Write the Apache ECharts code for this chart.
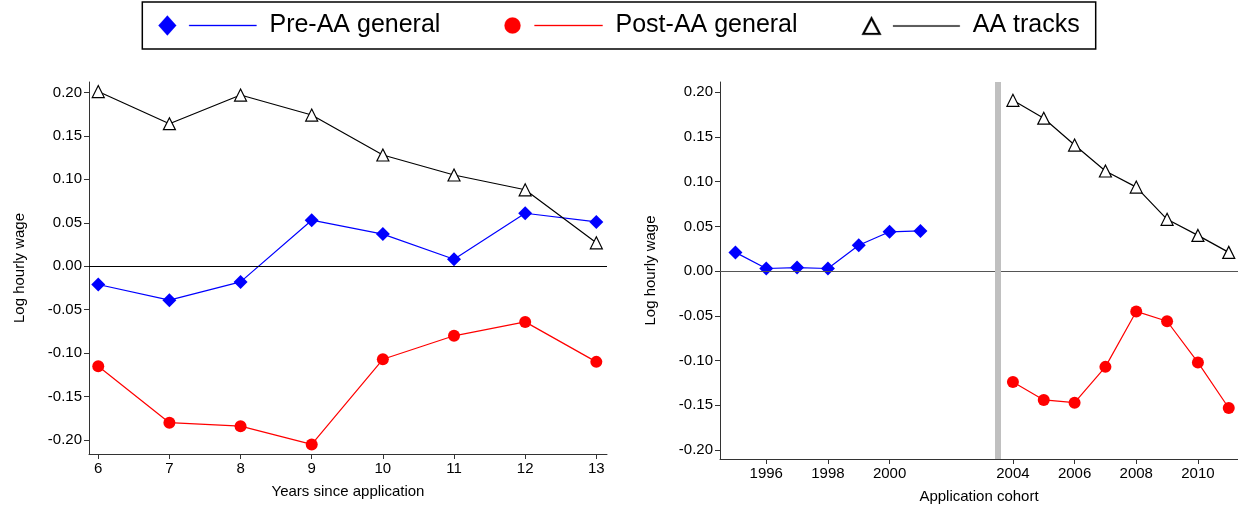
<!DOCTYPE html>
<html>
<head>
<meta charset="utf-8">
<script src="https://cdn.jsdelivr.net/npm/echarts@6/dist/echarts.min.js"></script>
<style>
  html, body { margin: 0; padding: 0; background: #fff; }
  #chart { width: 1238px; height: 509px; }
</style>
</head>
<body>
<div id="chart"></div>
<script>
// left panel: years since application
var yearsSince = [6, 7, 8, 9, 10, 11, 12, 13];
var preLeft = [-0.021, -0.039, -0.018, 0.053, 0.037, 0.008, 0.061, 0.051];
var postLeft = [-0.115, -0.180, -0.184, -0.205, -0.107, -0.080, -0.064, -0.110];
var aaLeft = [0.201, 0.164, 0.197, 0.174, 0.128, 0.105, 0.088, 0.027];

// right panel: application cohort
var preCohorts = [1995, 1996, 1997, 1998, 1999, 2000, 2001];
var preRight = [0.021, 0.003, 0.004, 0.003, 0.029, 0.044, 0.045];
var postCohorts = [2004, 2005, 2006, 2007, 2008, 2009, 2010, 2011];
var postRight = [-0.124, -0.144, -0.147, -0.107, -0.045, -0.056, -0.102, -0.153];
var aaRight = [0.191, 0.171, 0.141, 0.112, 0.094, 0.058, 0.040, 0.021];

var yTicks = [-0.20, -0.15, -0.10, -0.05, 0.00, 0.05, 0.10, 0.15, 0.20];
var leftXTicks = [6, 7, 8, 9, 10, 11, 12, 13];
var rightXTicks = [1996, 1998, 2000, 2004, 2006, 2008, 2010];
var reformCohort = 2003.5;

var font = 'Liberation Sans, Arial, sans-serif';
var zip = function (xs, ys) { return xs.map(function (x, i) { return [x, ys[i]]; }); };

// legend icons: marker, gap, then a line (like Stata legends)
var lineTail = 'M32,9.4 L100,9.4 L100,10.6 L32,10.6 Z';
var icons = {
  diamond: 'path://M1,10 L10,0 L19,10 L10,20 Z ' + lineTail,
  circle: 'path://M2,10 A8,8 0 1,1 18,10 A8,8 0 1,1 2,10 Z ' + lineTail,
  triangle: 'path://M0,19 L10,0 L20,19 Z M3.2,17.2 L16.8,17.2 L10,4.4 Z ' + lineTail
};

function xAxis(idx, min, max, ticks, name) {
  return {
    type: 'value', gridIndex: idx, min: min, max: max,
    name: name, nameLocation: 'middle', nameGap: 30,
    nameTextStyle: { color: '#000', fontSize: 15, fontFamily: font },
    splitLine: { show: false },
    axisLine: { onZero: false, lineStyle: { color: '#333', width: 1 } },
    axisTick: { customValues: ticks, length: 5, lineStyle: { color: '#333' } },
    axisLabel: { customValues: ticks, color: '#000', fontSize: 15, fontFamily: font, margin: 7,
      formatter: function (v) { return String(v); } }
  };
}
function yAxis(idx, min, max) {
  return {
    type: 'value', gridIndex: idx, min: min, max: max,
    name: 'Log hourly wage', nameLocation: 'middle', nameGap: 62,
    nameTextStyle: { color: '#000', fontSize: 15, fontFamily: font },
    splitLine: { show: false },
    axisLine: { show: true, onZero: false, lineStyle: { color: '#333', width: 1 } },
    axisTick: { customValues: yTicks, length: 5, lineStyle: { color: '#333' } },
    axisLabel: { customValues: yTicks, color: '#000', fontSize: 15, fontFamily: font, margin: 7,
      formatter: function (v) { return v.toFixed(2); } }
  };
}
function line(name, idx, data, color, symbol, size, extra) {
  var s = {
    name: name, type: 'line', xAxisIndex: idx, yAxisIndex: idx, data: data,
    symbol: symbol, symbolSize: size, showSymbol: true,
    lineStyle: { color: color, width: 1.2 },
    itemStyle: symbol === 'triangle' ? { color: '#fff', borderColor: '#000', borderWidth: 1.2 } : { color: color },
    z: 3
  };
  return Object.assign(s, extra || {});
}
var zeroLine = {
  markLine: { silent: true, symbol: 'none', label: { show: false },
    lineStyle: { color: '#000', width: 1, type: 'solid' }, data: [{ yAxis: 0 }] }
};
function legendItem(name, icon, color) {
  return { name: name, icon: icon, itemStyle: { color: color, borderColor: color, borderWidth: 0.3 } };
}

var chart = echarts.init(document.getElementById('chart'));
chart.setOption({
  animation: false,
  legend: {
    top: 2, left: 'center', itemGap: 64, itemWidth: 98, itemHeight: 20,
    padding: [11, 16, 11, 16],
    borderColor: '#000', borderWidth: 1.5,
    textStyle: { fontSize: 25, color: '#000', fontFamily: font, padding: [0, 0, 0, 8] },
    data: [
      legendItem('Pre-AA general', icons.diamond, '#0000ff'),
      legendItem('Post-AA general', icons.circle, '#ff0000'),
      legendItem('AA tracks', icons.triangle, '#000')
    ]
  },
  grid: [
    { left: 89, right: 631, top: 82, bottom: 55 },
    { left: 720, right: 0, top: 82, bottom: 47 }
  ],
  xAxis: [
    xAxis(0, 5.87, 13.15, leftXTicks, 'Years since application'),
    xAxis(1, 1994.5, 2011.3, rightXTicks, 'Application cohort')
  ],
  yAxis: [yAxis(0, -0.216, 0.212), yAxis(1, -0.21, 0.2115)],
  series: [
    line('Pre-AA general', 0, zip(yearsSince, preLeft), '#0000ff', 'diamond', 14, zeroLine),
    line('Post-AA general', 0, zip(yearsSince, postLeft), '#ff0000', 'circle', 12),
    line('AA tracks', 0, zip(yearsSince, aaLeft), '#000', 'triangle', 12),
    line('Pre-AA general', 1, zip(preCohorts, preRight), '#0000ff', 'diamond', 14, {
      markLine: { silent: true, symbol: 'none', label: { show: false }, data: [
        { yAxis: 0, lineStyle: { color: '#555', width: 1, type: 'solid' } },
        { xAxis: reformCohort, lineStyle: { color: '#c0c0c0', width: 6, type: 'solid' } }
      ] }
    }),
    line('Post-AA general', 1, zip(postCohorts, postRight), '#ff0000', 'circle', 12),
    line('AA tracks', 1, zip(postCohorts, aaRight), '#000', 'triangle', 12)
  ]
});
</script>
</body>
</html>
